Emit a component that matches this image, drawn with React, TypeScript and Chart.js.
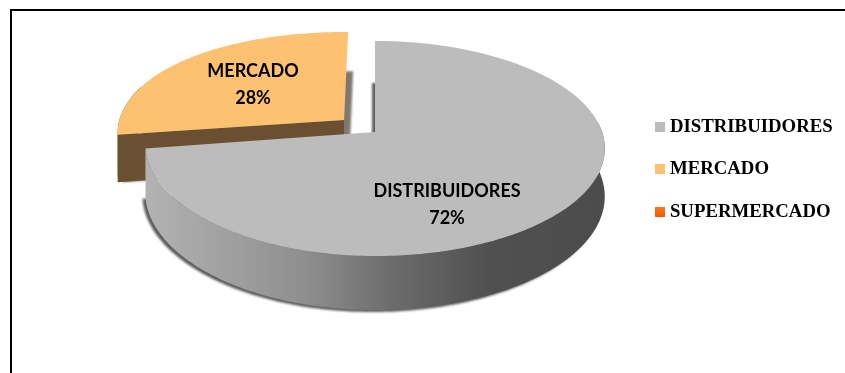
import React, { useEffect, useRef } from "react";
import { Chart, registerables } from "chart.js";

Chart.register(...registerables);

// Sales channel shares
const categories = ["DISTRIBUIDORES", "MERCADO", "SUPERMERCADO"];
const shares = [72, 28, 0];
const faceColors = ["#bcbcbc", "#fcc272", "#f9620f"];
const explode = [0, 21, 0];

// Perspective of the tilted disc
const TILT = { rx: 227, ry: 105, k: 0.1535, depthMid: 47, depthSlope: 7, lean: 4 };
const CAST = [
  { x: -3, y: 2, color: "#5e5e5e" },
  { x: 5, y: 0, color: "#80786e" },
];
const LABEL_SPOTS = [
  { x: 72, y: 72.5 },
  { x: -122, y: -47 },
];

type Pt = { x: number; y: number };

function swatch(color: string, end?: string) {
  const c = document.createElement("canvas");
  c.width = 10;
  c.height = 10;
  const g = c.getContext("2d")!;
  const fill = g.createLinearGradient(0, 0, 0, 10);
  fill.addColorStop(0, color);
  fill.addColorStop(1, end ?? color);
  g.fillStyle = fill;
  g.fillRect(0, 0, 10, 10);
  return c;
}

function projector(arc: any) {
  const d = (arc.options.offset || 0) / arc.outerRadius;
  const mid = (arc.startAngle + arc.endAngle) / 2;
  const ox = d * Math.cos(mid);
  const oy = -d * Math.sin(mid);
  return (a: number | null, down: boolean): Pt => {
    const u = ox + (a === null ? 0 : Math.cos(a));
    const v = oy + (a === null ? 0 : -Math.sin(a));
    const w = 1 + TILT.k * v;
    const lift = u < 0 ? TILT.lean * u * u : 0;
    return {
      x: arc.x + (TILT.rx * u) / w,
      y: arc.y - (TILT.ry * v) / w - lift + (down ? TILT.depthMid - TILT.depthSlope * v : 0),
    };
  };
}

function angles(from: number, to: number) {
  const out: number[] = [];
  const n = Math.max(2, Math.ceil((to - from) / 0.02));
  for (let i = 0; i <= n; i++) out.push(from + ((to - from) * i) / n);
  return out;
}

function trace(ctx: CanvasRenderingContext2D, pts: Pt[], dx = 0, dy = 0) {
  ctx.beginPath();
  pts.forEach((p, i) => (i ? ctx.lineTo(p.x + dx, p.y + dy) : ctx.moveTo(p.x + dx, p.y + dy)));
  ctx.closePath();
}

const framePlugin = {
  id: "frame",
  beforeDraw(chart: any) {
    const { ctx, width, height } = chart;
    ctx.save();
    ctx.strokeStyle = "#000";
    ctx.lineWidth = 2;
    ctx.beginPath();
    ctx.moveTo(11, height);
    ctx.lineTo(11, 10);
    ctx.lineTo(width, 10);
    ctx.stroke();
    ctx.restore();
  },
};

// Runs after the legend has built its hit boxes, so the shift survives
const legendPlacement = {
  id: "legendPlacement",
  afterUpdate(chart: any) {
    const legend = chart.legend;
    const boxes = legend.legendHitBoxes;
    const dx = 659.5 - boxes[0].left;
    const dy = 117.5 - boxes[0].top;
    boxes.forEach((b: any) => {
      b.left += dx;
      b.top += dy;
    });
    legend.left += dx;
    legend.right += dx;
    legend.top += dy;
    legend.bottom += dy;
  },
};

const tiltedPie = {
  id: "tiltedPie",
  beforeDatasetsDraw(chart: any) {
    const { ctx } = chart;
    const arcs = chart.getDatasetMeta(0).data;
    ctx.save();
    for (let i = arcs.length - 1; i >= 0; i--) {
      const arc = arcs[i];
      if (shares[i] === 0) continue;
      const at = projector(arc);
      const rim = angles(arc.startAngle, arc.endAngle);
      const top = [at(null, false), ...rim.map((a) => at(a, false))];
      const base = [at(null, true), ...rim.map((a) => at(a, true))];

      // soft cast edge behind the slice
      ctx.save();
      ctx.filter = "blur(1.2px)";
      ctx.fillStyle = CAST[i].color;
      trace(ctx, base, CAST[i].x, CAST[i].y);
      ctx.fill();
      ctx.restore();

      const flat = i === 1;
      const wallPaint = "#6a5030";
      if (flat) {
        ctx.fillStyle = wallPaint;
        trace(ctx, [at(null, false), at(arc.startAngle, false), at(arc.startAngle, true), at(null, true)]);
        ctx.fill();
      }

      // outer rim, only the part that faces the viewer
      const from = Math.max(arc.startAngle, -0.1);
      const to = Math.min(arc.endAngle, Math.PI + 0.3);
      if (to > from) {
        const sweep = angles(from, to);
        let paint: any = wallPaint;
        if (!flat) {
          paint = ctx.createLinearGradient(arc.x - TILT.rx, 0, arc.x + TILT.rx, 0);
          paint.addColorStop(0, "#b2b2b2");
          paint.addColorStop(0.35, "#8e8e8e");
          paint.addColorStop(0.55, "#6a6a6a");
          paint.addColorStop(0.75, "#505050");
          paint.addColorStop(1, "#4c4c4c");
        }
        ctx.fillStyle = paint;
        trace(ctx, [...sweep.map((a) => at(a, false)), ...sweep.slice().reverse().map((a) => at(a, true))]);
        ctx.fill();
      }

      ctx.fillStyle = faceColors[i];
      trace(ctx, top);
      ctx.fill();
    }

    // value captions sit on top of the faces
    const total = shares.reduce((s, v) => s + v, 0);
    ctx.fillStyle = "#000";
    ctx.font = "bold 18px Lato";
    ctx.textAlign = "center";
    ctx.textBaseline = "middle";
    LABEL_SPOTS.forEach((spot, i) => {
      const arc = arcs[i];
      ctx.fillText(categories[i], arc.x + spot.x, arc.y + spot.y - 13.5);
      ctx.fillText(`${Math.round((shares[i] / total) * 100)}%`, arc.x + spot.x, arc.y + spot.y + 13.5);
    });
    ctx.restore();
    return false;
  },
};

export default function App() {
  const ref = useRef<HTMLCanvasElement>(null);

  useEffect(() => {
    const swatches = [
      swatch(faceColors[0]),
      swatch(faceColors[1]),
      swatch("#fb7a22", "#f35a05"),
    ];
    const chart = new Chart(ref.current!, {
      type: "pie",
      data: {
        labels: categories,
        datasets: [{ data: shares, backgroundColor: faceColors, offset: explode, borderWidth: 0 }],
      },
      options: {
        responsive: false,
        animation: false,
        layout: { padding: { left: 112, right: 0, top: 5, bottom: 114 } },
        plugins: {
          tooltip: { enabled: false },
          legend: {
            position: "right",
            labels: {
              usePointStyle: true,
              boxWidth: 1,
              padding: 23.7,
              color: "#000",
              font: { family: "Liberation Serif", weight: "bold", size: 18.8 },
              generateLabels: () =>
                categories.map((text, index) => ({
                  text,
                  index,
                  fillStyle: faceColors[index],
                  strokeStyle: faceColors[index],
                  lineWidth: 0,
                  hidden: false,
                  pointStyle: swatches[index],
                })),
            },
          },
        },
      },
      plugins: [framePlugin, legendPlacement, tiltedPie],
    } as any);
    return () => chart.destroy();
  }, []);

  return (
    <div style={{ position: "absolute", left: 0, top: 0, width: 845, height: 373, background: "#fff" }}>
      <canvas ref={ref} width={845} height={373} style={{ display: "block" }} />
    </div>
  );
}
